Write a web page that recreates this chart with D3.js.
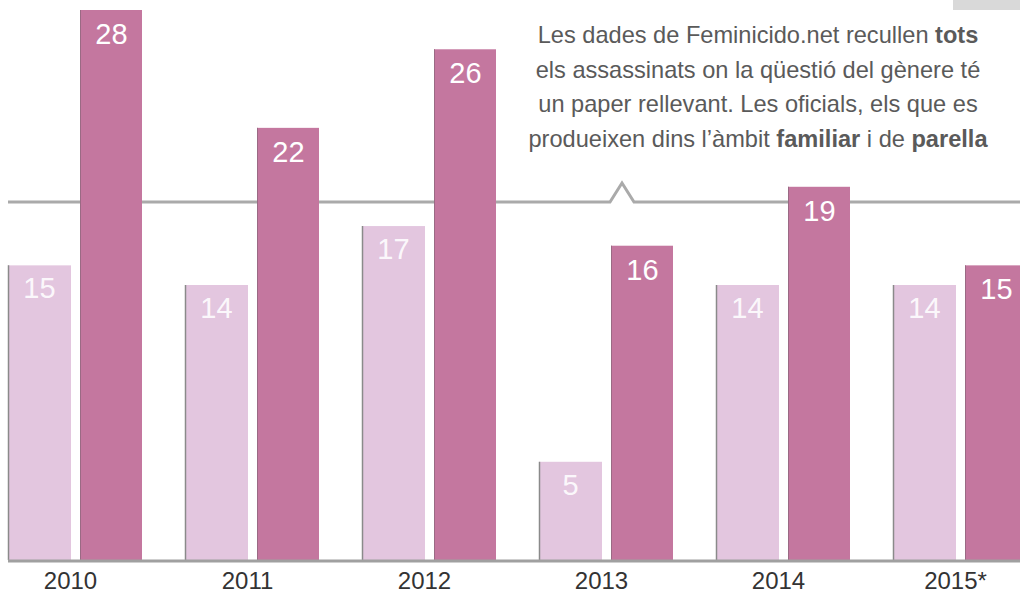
<!DOCTYPE html>
<meta charset="utf-8">
<script src="https://d3js.org/d3.v7.min.js"></script>
<style>
  body { margin: 0; background: #fff; }
  svg { font-family: "Liberation Sans", Arial, sans-serif; }
</style>
<div id="graph"></div>
<script>
    // data
    var years = ["2010", "2011", "2012", "2013", "2014", "2015*"];
    var oficials = [15, 14, 17, 5, 14, 14];
    var feminicidio = [28, 22, 26, 16, 19, 15];
    var noteLines = [
        [["Les dades de Feminicido.net recullen ", false], ["tots", true]],
        [["els assassinats on la qüestió del gènere té", false]],
        [["un paper rellevant. Les oficials, els que es", false]],
        [["produeixen dins l’àmbit ", false], ["familiar", true], [" i de ", false], ["parella", true]]
    ];

    var width = 1020, height = 593;
    var baseY = 560;

    var svg = d3.select("#graph")
        .append("svg")
        .attr("width", width)
        .attr("height", height);

    var x = d3.scaleBand()
        .domain(years)
        .range([8, 8 + 177 * 6])
        .paddingInner(0)
        .paddingOuter(0);

    var y = d3.scaleLinear()
        .domain([0, 28])
        .range([baseY, 10]);

    var barW = 63, gap = 9;

    // grey tab in the corner
    svg.append("rect")
        .attr("x", 953).attr("y", 0)
        .attr("width", 67).attr("height", 10)
        .style("fill", "#d9d9d9");

    // callout line with the little notch
    var lineY = 202, notchX = 622;
    svg.append("path")
        .attr("d", d3.line()([[8, lineY], [notchX - 12, lineY], [notchX, lineY - 19], [notchX + 12, lineY], [width, lineY]]))
        .attr("fill", "none")
        .attr("stroke", "#aaaaaa")
        .attr("stroke-width", 3);

    // note text
    var note = svg.append("text")
        .attr("text-anchor", "middle")
        .attr("font-size", "23.6px")
        .attr("fill", "#5a5a5a");
    noteLines.forEach(function (line, i) {
        var t = note.append("tspan")
            .attr("x", 758)
            .attr("y", 43 + i * 34.5);
        line.forEach(function (part) {
            t.append("tspan")
                .attr("font-weight", part[1] ? "bold" : null)
                .text(part[0]);
        });
    });

    var groups = svg.selectAll("g.year")
        .data(years)
        .enter()
        .append("g")
        .attr("class", "year")
        .attr("transform", function (d) { return "translate(" + x(d) + ",0)"; });

    // light bars (oficials)
    groups.append("rect")
        .attr("x", 0)
        .attr("y", function (d, i) { return y(oficials[i]); })
        .attr("width", barW)
        .attr("height", function (d, i) { return baseY - y(oficials[i]); })
        .style("fill", "#e3c6df");
    groups.append("line")
        .attr("x1", 0.5).attr("x2", 0.5)
        .attr("y1", function (d, i) { return y(oficials[i]); })
        .attr("y2", baseY)
        .attr("stroke", "#8a8a8a")
        .attr("stroke-width", 1.5);

    // dark bars (feminicidio.net)
    groups.append("rect")
        .attr("x", barW + gap)
        .attr("y", function (d, i) { return y(feminicidio[i]); })
        .attr("width", barW - 1)
        .attr("height", function (d, i) { return baseY - y(feminicidio[i]); })
        .style("fill", "#c4779f");
    groups.append("line")
        .attr("x1", barW + gap + 0.5).attr("x2", barW + gap + 0.5)
        .attr("y1", function (d, i) { return y(feminicidio[i]); })
        .attr("y2", baseY)
        .attr("stroke", "#9a6a84")
        .attr("stroke-width", 1);

    // value labels
    groups.append("text")
        .attr("x", barW / 2)
        .attr("y", function (d, i) { return y(oficials[i]) + 33; })
        .attr("text-anchor", "middle")
        .attr("font-size", "29px")
        .attr("fill", "#ffffff")
        .attr("fill-opacity", 0.9)
        .text(function (d, i) { return oficials[i]; });
    groups.append("text")
        .attr("x", barW + gap + barW / 2)
        .attr("y", function (d, i) { return y(feminicidio[i]); })
        .attr("dy", 34)
        .attr("text-anchor", "middle")
        .attr("font-size", "29px")
        .attr("fill", "#ffffff")
        .text(function (d, i) { return feminicidio[i]; });

    // baseline
    svg.append("line")
        .attr("x1", 8).attr("x2", width)
        .attr("y1", baseY + 1).attr("y2", baseY + 1)
        .attr("stroke", "#a0a0a0")
        .attr("stroke-width", 3);

    // year labels
    var xAxis = d3.axisBottom(x).tickSize(0).tickPadding(0);
    var axisG = svg.append("g")
        .attr("transform", "translate(0," + (baseY + 29) + ")")
        .call(xAxis);
    axisG.select(".domain").remove();
    axisG.selectAll("text")
        .attr("font-size", "24px")
        .attr("fill", "#333")
        .attr("dy", 0)
        .attr("font-family", "Liberation Sans, Arial, sans-serif")
        .attr("transform", "translate(-26,0)");
</script>
